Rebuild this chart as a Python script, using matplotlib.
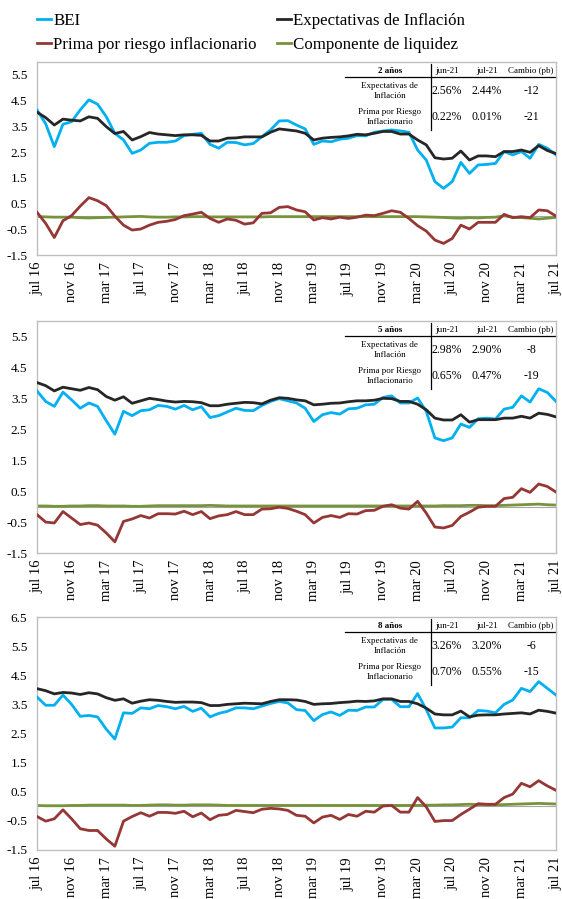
import matplotlib
matplotlib.use("Agg")
import matplotlib.pyplot as plt

plt.rcParams['font.family'] = ['Liberation Serif', 'DejaVu Serif']

# monthly series, jul 16 .. jul 21 (61 points)
tick_labels = ["jul 16", "nov 16", "mar 17", "jul 17", "nov 17", "mar 18", "jul 18",
               "nov 18", "mar 19", "jul 19", "nov 19", "mar 20", "jul 20", "nov 20",
               "mar 21", "jul 21"]

# 2 years
bei_2 = [4.14, 3.6, 2.71, 3.58, 3.68, 4.14, 4.53, 4.36, 3.88, 3.23, 2.97, 2.45, 2.58, 2.84, 2.88,
         2.88, 2.93, 3.14, 3.19, 3.23, 2.8, 2.65, 2.88, 2.87, 2.78, 2.83, 3.1, 3.36, 3.71, 3.72,
         3.55, 3.4, 2.8, 2.93, 2.9, 3.0, 3.04, 3.14, 3.13, 3.27, 3.32, 3.36, 3.32, 3.27, 2.58,
         2.19, 1.35, 1.09, 1.35, 2.1, 1.67, 2.0, 2.02, 2.06, 2.52, 2.39, 2.52, 2.26, 2.8, 2.65, 2.39]
exp_2 = [4.05, 3.84, 3.55, 3.78, 3.74, 3.71, 3.87, 3.81, 3.49, 3.22, 3.3, 2.97, 3.1, 3.26, 3.2,
         3.17, 3.14, 3.17, 3.17, 3.15, 2.93, 2.93, 3.04, 3.05, 3.09, 3.09, 3.09, 3.27, 3.4, 3.36,
         3.32, 3.23, 2.97, 3.04, 3.07, 3.09, 3.13, 3.19, 3.17, 3.23, 3.3, 3.3, 3.2, 3.2, 2.97,
         2.78, 2.28, 2.23, 2.26, 2.54, 2.19, 2.35, 2.35, 2.32, 2.52, 2.52, 2.58, 2.49, 2.75, 2.56, 2.44]
prima_2 = [0.16, -0.27, -0.82, -0.17, 0.03, 0.4, 0.73, 0.61, 0.42, 0.01, -0.34, -0.53, -0.49, -0.34, -0.23,
           -0.19, -0.12, 0.03, 0.09, 0.16, -0.08, -0.23, -0.1, -0.15, -0.3, -0.25, 0.12, 0.14, 0.35, 0.38,
           0.25, 0.18, -0.14, -0.05, -0.1, -0.03, -0.08, -0.03, 0.05, 0.03, 0.12, 0.22, 0.16, -0.08, -0.36,
           -0.57, -0.92, -1.05, -0.86, -0.34, -0.49, -0.23, -0.23, -0.23, 0.08, -0.05, -0.01, -0.05, 0.25, 0.22, 0.01]
liq_2 = [0.0, -0.02, -0.03, -0.03, -0.03, -0.05, -0.06, -0.05, -0.04, -0.03, -0.02, -0.01, 0.0, -0.02, -0.03,
         -0.03, -0.02, -0.02, -0.01, -0.01, -0.02, -0.02, -0.02, -0.02, -0.02, -0.02, -0.02, -0.01, -0.01, -0.01,
         -0.01, -0.01, -0.01, -0.01, -0.01, -0.01, -0.01, -0.01, -0.01, -0.01, -0.01, -0.01, -0.01, -0.01, -0.01,
         -0.02, -0.03, -0.04, -0.06, -0.07, -0.05, -0.06, -0.04, -0.03, 0.02, -0.03, -0.05, -0.07, -0.1, -0.07, -0.04]

# 5 years
bei_5 = [3.74, 3.4, 3.24, 3.7, 3.45, 3.18, 3.35, 3.24, 2.78, 2.34, 3.08, 2.94, 3.1, 3.13, 3.27,
         3.24, 3.15, 3.27, 3.13, 3.23, 2.88, 2.94, 3.06, 3.18, 3.11, 3.1, 3.27, 3.4, 3.49, 3.42,
         3.35, 3.18, 2.75, 2.97, 3.04, 2.99, 3.16, 3.18, 3.29, 3.31, 3.53, 3.58, 3.35, 3.35, 3.51,
         3.08, 2.22, 2.13, 2.22, 2.67, 2.56, 2.84, 2.86, 2.83, 3.15, 3.21, 3.58, 3.38, 3.81, 3.69, 3.4]
exp_5 = [4.01, 3.91, 3.74, 3.86, 3.81, 3.76, 3.85, 3.78, 3.56, 3.44, 3.55, 3.34, 3.42, 3.5, 3.46,
         3.41, 3.38, 3.4, 3.39, 3.36, 3.26, 3.26, 3.31, 3.34, 3.37, 3.36, 3.32, 3.44, 3.52, 3.5,
         3.45, 3.42, 3.29, 3.31, 3.34, 3.35, 3.39, 3.42, 3.42, 3.44, 3.5, 3.49, 3.4, 3.4, 3.31,
         3.13, 2.86, 2.8, 2.8, 2.97, 2.73, 2.81, 2.81, 2.81, 2.86, 2.86, 2.92, 2.86, 3.02, 2.98, 2.9]
prima_5 = [-0.26, -0.5, -0.53, -0.16, -0.37, -0.58, -0.53, -0.6, -0.85, -1.14, -0.48, -0.4, -0.29, -0.37, -0.23,
           -0.23, -0.24, -0.15, -0.26, -0.16, -0.39, -0.3, -0.26, -0.16, -0.26, -0.26, -0.08, -0.07, -0.02, -0.06,
           -0.15, -0.26, -0.53, -0.35, -0.29, -0.35, -0.23, -0.24, -0.13, -0.12, 0.01, 0.06, -0.05, -0.08, 0.17,
           -0.21, -0.66, -0.69, -0.61, -0.32, -0.18, -0.02, 0.01, 0.01, 0.26, 0.3, 0.58, 0.46, 0.73, 0.65, 0.47]
liq_5 = [0.02, 0.02, 0.01, 0.01, 0.02, 0.02, 0.03, 0.03, 0.02, 0.02, 0.02, 0.01, 0.01, 0.02, 0.03,
         0.03, 0.03, 0.03, 0.03, 0.03, 0.04, 0.03, 0.02, 0.02, 0.02, 0.02, 0.02, 0.02, 0.02, 0.02,
         0.02, 0.02, 0.02, 0.02, 0.02, 0.02, 0.02, 0.02, 0.02, 0.02, 0.02, 0.02, 0.02, 0.02, 0.02,
         0.02, 0.02, 0.03, 0.03, 0.03, 0.04, 0.04, 0.03, 0.03, 0.04, 0.05, 0.06, 0.07, 0.08, 0.06, 0.05]

# 8 years
bei_8 = [3.75, 3.47, 3.47, 3.82, 3.5, 3.09, 3.12, 3.07, 2.65, 2.31, 3.21, 3.19, 3.38, 3.35, 3.46,
         3.42, 3.35, 3.43, 3.26, 3.37, 3.07, 3.19, 3.26, 3.38, 3.38, 3.35, 3.44, 3.53, 3.6, 3.55,
         3.32, 3.29, 2.94, 3.15, 3.24, 3.12, 3.3, 3.29, 3.41, 3.41, 3.67, 3.67, 3.42, 3.42, 3.87,
         3.32, 2.69, 2.69, 2.72, 3.04, 3.04, 3.29, 3.27, 3.21, 3.5, 3.65, 4.05, 3.94, 4.28, 4.05, 3.82]
exp_8 = [4.04, 3.97, 3.86, 3.91, 3.89, 3.84, 3.9, 3.86, 3.73, 3.64, 3.69, 3.54, 3.61, 3.66, 3.64,
         3.6, 3.57, 3.58, 3.58, 3.56, 3.46, 3.46, 3.5, 3.52, 3.54, 3.53, 3.52, 3.6, 3.66, 3.66,
         3.65, 3.6, 3.5, 3.52, 3.53, 3.56, 3.58, 3.61, 3.6, 3.62, 3.69, 3.69, 3.6, 3.6, 3.52,
         3.37, 3.17, 3.14, 3.14, 3.27, 3.07, 3.13, 3.14, 3.14, 3.17, 3.19, 3.21, 3.17, 3.3, 3.26, 3.2]
prima_8 = [-0.35, -0.51, -0.43, -0.12, -0.43, -0.77, -0.83, -0.83, -1.12, -1.37, -0.51, -0.35, -0.22, -0.34, -0.21,
           -0.21, -0.24, -0.17, -0.36, -0.23, -0.46, -0.31, -0.28, -0.14, -0.18, -0.22, -0.1, -0.07, -0.09, -0.14,
           -0.31, -0.34, -0.57, -0.37, -0.31, -0.45, -0.28, -0.34, -0.17, -0.2, 0.01, 0.03, -0.2, -0.2, 0.3,
           -0.02, -0.52, -0.49, -0.49, -0.28, -0.1, 0.09, 0.07, 0.07, 0.3, 0.42, 0.79, 0.67, 0.88, 0.7, 0.55]
liq_8 = [0.03, 0.02, 0.02, 0.02, 0.03, 0.03, 0.04, 0.04, 0.04, 0.04, 0.04, 0.03, 0.03, 0.04, 0.05,
         0.05, 0.04, 0.04, 0.05, 0.05, 0.05, 0.04, 0.03, 0.03, 0.03, 0.03, 0.03, 0.03, 0.03, 0.03,
         0.03, 0.03, 0.03, 0.03, 0.03, 0.03, 0.03, 0.03, 0.03, 0.03, 0.03, 0.03, 0.03, 0.03, 0.03,
         0.04, 0.04, 0.05, 0.05, 0.06, 0.07, 0.06, 0.05, 0.05, 0.06, 0.07, 0.08, 0.09, 0.1, 0.09, 0.08]

# summary tables
table_titles = ["2 años", "5 años", "8 años"]
table_cols = ["jun-21", "jul-21", "Cambio (pb)"]
table_rows = ["Expectativas de\nInflación", "Prima por Riesgo\nInflacionario"]
table_vals = [
    [["2.56%", "2.44%", "-12"], ["0.22%", "0.01%", "-21"]],
    [["2.98%", "2.90%", "-8"], ["0.65%", "0.47%", "-19"]],
    [["3.26%", "3.20%", "-6"], ["0.70%", "0.55%", "-15"]],
]

c_bei = "#00B0F0"
c_exp = "#262626"
c_prima = "#953735"
c_liq = "#77933C"

W, H = 562, 899
fig = plt.figure(figsize=(W / 100, H / 100), dpi=100)

panels = [
    (bei_2, exp_2, prima_2, liq_2, 62, 255, 6.0),
    (bei_5, exp_5, prima_5, liq_5, 321, 553, 6.0),
    (bei_8, exp_8, prima_8, liq_8, 617, 850, 6.5),
]
x0, x1 = 37, 556
months = list(range(len(bei_2)))

for i, (bei, exp, prima, liq, top, bot, ytop) in enumerate(panels):
    ax = fig.add_axes([x0 / W, 1 - bot / H, (x1 - x0) / W, (bot - top) / H])
    ax.axhline(0, color="#A6A6A6", lw=0.8, zorder=1)
    l_bei, = ax.plot(months, bei, color=c_bei, lw=2.0, label="BEI", zorder=3)
    l_exp, = ax.plot(months, exp, color=c_exp, lw=2.0, label="Expectativas de Inflación", zorder=4)
    l_pr, = ax.plot(months, prima, color=c_prima, lw=2.0, label="Prima por riesgo inflacionario", zorder=3)
    l_lq, = ax.plot(months, liq, color=c_liq, lw=2.0, label="Componente de liquidez", zorder=2)

    ax.set_xlim(0, len(months) - 1)
    ax.set_ylim(-1.5, ytop)
    yt = [-1.5 + k for k in range(int(ytop + 1.5) + 1) if -1.5 + k <= ytop]
    ax.set_yticks(yt)
    ax.set_yticklabels(["%.1f" % v for v in yt], fontsize=9.5)
    ax.set_xticks(months[::4])
    ax.set_xticklabels(tick_labels, rotation=90, fontsize=10.5)
    ax.tick_params(length=0)
    ax.tick_params(axis="y", pad=7)
    ax.tick_params(axis="x", pad=5)
    for s in ax.spines.values():
        s.set_color("#BFBFBF")
        s.set_linewidth(1.0)

    # table in upper right corner
    def put(x, dy, txt, **kw):
        ax.annotate(txt, xy=(x, 1), xycoords="axes fraction", xytext=(0, -dy * 0.72),
                    textcoords="offset points", ha="center", va="center", **kw)

    put(0.680, 9, table_titles[i], fontsize=6.5, fontweight="bold")
    for cx, col in zip([0.790, 0.867, 0.952], table_cols):
        put(cx, 9, col, fontsize=6.5)
    for ry, rlab, vals in zip([29, 55], table_rows, table_vals[i]):
        put(0.680, ry, rlab, fontsize=6.5, linespacing=1.3)
        for cx, v in zip([0.790, 0.867, 0.952], vals):
            put(cx, ry, v, fontsize=8.5)
    hy = 1 - 15 / (bot - top)
    ax.plot([0.593, 1.0], [hy, hy], transform=ax.transAxes, color="black", lw=0.9, clip_on=False)
    ax.plot([0.759, 0.759], [1 - 2 / (bot - top), 1 - 68 / (bot - top)], transform=ax.transAxes,
            color="black", lw=0.9, clip_on=False)

fig.legend([l_bei, l_pr, l_exp, l_lq],
           ["BEI", "Prima por riesgo inflacionario", "Expectativas de Inflación", "Componente de liquidez"],
           ncol=2, loc="upper left", bbox_to_anchor=(37 / W, 1 - 13 / H), frameon=False,
           fontsize=12.2, handlelength=0.85, handletextpad=0.1, columnspacing=1.2,
           labelspacing=0.45, borderpad=0, borderaxespad=0)

fig.savefig("out.png", dpi=100)
